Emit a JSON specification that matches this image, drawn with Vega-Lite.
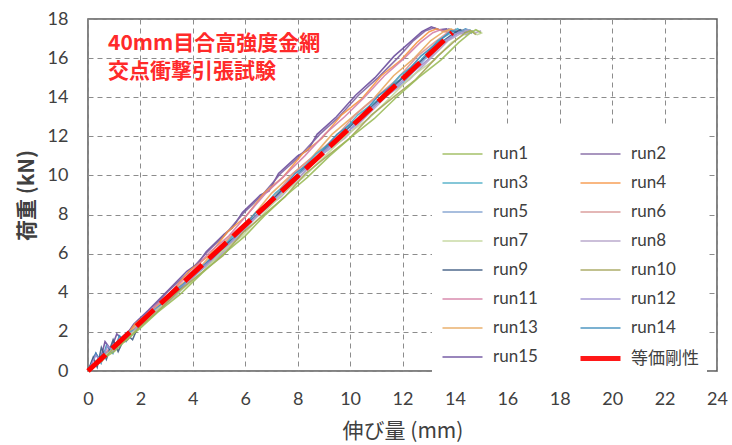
{
  "$schema": "https://vega.github.io/schema/vega-lite/v6.json",
  "width": 629,
  "height": 352,
  "autosize": "none",
  "padding": {"left": 88, "top": 19, "right": 15, "bottom": 74},
  "background": "white",
  "title": {
    "text": ["40mm目合高強度金網", "交点衝撃引張試験"],
    "orient": "top",
    "anchor": "start",
    "frame": "group",
    "baseline": "top",
    "offset": 0,
    "dx": 20,
    "dy": 72,
    "font": "Noto Sans CJK JP",
    "fontSize": 21,
    "fontWeight": "bold",
    "color": "#ff2a2a",
    "lineHeight": 28
  },
  "data": {
    "values": [
      {"run":"run15","x":0,"y":0},{"run":"run15","x":0.3,"y":0.9},{"run":"run15","x":0.46,"y":0.5},{"run":"run15","x":0.65,"y":1.5},{"run":"run15","x":0.87,"y":1.1},{"run":"run15","x":1.1,"y":1.9},{"run":"run15","x":1.33,"y":1.6},{"run":"run15","x":1.75,"y":2.4},{"run":"run15","x":2.3,"y":3.1},{"run":"run15","x":3.04,"y":4.1},{"run":"run15","x":3.77,"y":5.1},{"run":"run15","x":4.2,"y":5.5},{"run":"run15","x":4.51,"y":6.1},{"run":"run15","x":5.2,"y":7.0},{"run":"run15","x":5.5,"y":7.3},{"run":"run15","x":5.89,"y":8.1},{"run":"run15","x":6.58,"y":9.0},{"run":"run15","x":6.9,"y":9.2},{"run":"run15","x":7.27,"y":10.1},{"run":"run15","x":8.0,"y":11.0},{"run":"run15","x":8.4,"y":11.3},{"run":"run15","x":8.74,"y":12.1},{"run":"run15","x":9.48,"y":13.0},{"run":"run15","x":10.21,"y":14.1},{"run":"run15","x":10.95,"y":15.0},{"run":"run15","x":11.68,"y":16.1},{"run":"run15","x":12.28,"y":16.8},{"run":"run15","x":12.74,"y":17.35},{"run":"run15","x":13.1,"y":17.6},{"run":"run15","x":13.4,"y":17.45},{"run":"run15","x":13.7,"y":17.5},
      {"run":"run2","x":0,"y":0},{"run":"run2","x":0.47,"y":0.7},{"run":"run2","x":0.88,"y":1.1},{"run":"run2","x":1.35,"y":1.8},{"run":"run2","x":1.77,"y":2.3},{"run":"run2","x":2.33,"y":3.0},{"run":"run2","x":3.07,"y":4.1},{"run":"run2","x":3.81,"y":5.0},{"run":"run2","x":4.56,"y":6.1},{"run":"run2","x":5.25,"y":7.0},{"run":"run2","x":5.95,"y":8.1},{"run":"run2","x":6.65,"y":9.0},{"run":"run2","x":7.35,"y":10.1},{"run":"run2","x":8.09,"y":11.0},{"run":"run2","x":8.84,"y":12.1},{"run":"run2","x":9.58,"y":13.0},{"run":"run2","x":10.32,"y":14.1},{"run":"run2","x":11.07,"y":15.0},{"run":"run2","x":11.81,"y":16.0},{"run":"run2","x":12.42,"y":16.9},{"run":"run2","x":12.88,"y":17.4},{"run":"run2","x":13.2,"y":17.55},{"run":"run2","x":13.5,"y":17.4},{"run":"run2","x":13.8,"y":17.5},
      {"run":"run4","x":0,"y":0},{"run":"run4","x":0.47,"y":0.5},{"run":"run4","x":0.89,"y":1.2},{"run":"run4","x":1.36,"y":1.6},{"run":"run4","x":1.79,"y":2.4},{"run":"run4","x":2.35,"y":3.0},{"run":"run4","x":3.1,"y":3.9},{"run":"run4","x":3.85,"y":5.1},{"run":"run4","x":4.61,"y":5.9},{"run":"run4","x":5.31,"y":7.1},{"run":"run4","x":6.02,"y":7.9},{"run":"run4","x":6.72,"y":9.1},{"run":"run4","x":7.43,"y":9.9},{"run":"run4","x":8.18,"y":11.1},{"run":"run4","x":8.93,"y":11.9},{"run":"run4","x":9.68,"y":13.1},{"run":"run4","x":10.43,"y":13.9},{"run":"run4","x":11.19,"y":15.1},{"run":"run4","x":11.94,"y":15.9},{"run":"run4","x":12.55,"y":16.8},{"run":"run4","x":13.02,"y":17.35},{"run":"run4","x":13.3,"y":17.5},{"run":"run4","x":13.6,"y":17.35},{"run":"run4","x":13.9,"y":17.45},
      {"run":"run11","x":0,"y":0},{"run":"run11","x":0.48,"y":0.6},{"run":"run11","x":0.9,"y":1.3},{"run":"run11","x":1.38,"y":1.7},{"run":"run11","x":1.81,"y":2.2},{"run":"run11","x":2.38,"y":3.1},{"run":"run11","x":3.14,"y":4.0},{"run":"run11","x":3.9,"y":5.0},{"run":"run11","x":4.66,"y":6.1},{"run":"run11","x":5.37,"y":6.9},{"run":"run11","x":6.08,"y":8.0},{"run":"run11","x":6.79,"y":9.1},{"run":"run11","x":7.51,"y":10.0},{"run":"run11","x":8.27,"y":11.0},{"run":"run11","x":9.03,"y":12.1},{"run":"run11","x":9.79,"y":13.0},{"run":"run11","x":10.55,"y":14.0},{"run":"run11","x":11.31,"y":15.1},{"run":"run11","x":12.07,"y":16.0},{"run":"run11","x":12.68,"y":16.8},{"run":"run11","x":13.16,"y":17.3},{"run":"run11","x":13.45,"y":17.45},{"run":"run11","x":13.75,"y":17.3},{"run":"run11","x":14.0,"y":17.4},
      {"run":"run13","x":0,"y":0},{"run":"run13","x":0.49,"y":0.5},{"run":"run13","x":0.93,"y":1.2},{"run":"run13","x":1.42,"y":1.6},{"run":"run13","x":1.86,"y":2.4},{"run":"run13","x":2.45,"y":3.0},{"run":"run13","x":3.23,"y":4.1},{"run":"run13","x":4.02,"y":4.9},{"run":"run13","x":4.8,"y":6.1},{"run":"run13","x":5.54,"y":7.0},{"run":"run13","x":6.27,"y":7.9},{"run":"run13","x":7.01,"y":9.1},{"run":"run13","x":7.74,"y":10.0},{"run":"run13","x":8.53,"y":10.9},{"run":"run13","x":9.31,"y":12.1},{"run":"run13","x":10.09,"y":13.0},{"run":"run13","x":10.88,"y":13.9},{"run":"run13","x":11.66,"y":15.1},{"run":"run13","x":12.45,"y":16.0},{"run":"run13","x":13.08,"y":16.9},{"run":"run13","x":13.57,"y":17.35},{"run":"run13","x":13.85,"y":17.5},{"run":"run13","x":14.1,"y":17.3},{"run":"run13","x":14.35,"y":17.45},
      {"run":"run6","x":0,"y":0},{"run":"run6","x":0.5,"y":0.7},{"run":"run6","x":0.94,"y":1.1},{"run":"run6","x":1.44,"y":1.8},{"run":"run6","x":1.88,"y":2.2},{"run":"run6","x":2.48,"y":3.1},{"run":"run6","x":3.27,"y":3.9},{"run":"run6","x":4.06,"y":5.1},{"run":"run6","x":4.85,"y":5.9},{"run":"run6","x":5.59,"y":7.1},{"run":"run6","x":6.34,"y":8.0},{"run":"run6","x":7.08,"y":8.9},{"run":"run6","x":7.82,"y":10.1},{"run":"run6","x":8.61,"y":11.0},{"run":"run6","x":9.41,"y":11.9},{"run":"run6","x":10.2,"y":13.1},{"run":"run6","x":10.99,"y":14.0},{"run":"run6","x":11.78,"y":14.9},{"run":"run6","x":12.57,"y":16.1},{"run":"run6","x":13.22,"y":16.8},{"run":"run6","x":13.71,"y":17.3},{"run":"run6","x":14.0,"y":17.45},{"run":"run6","x":14.25,"y":17.25},
      {"run":"run3","x":0,"y":0},{"run":"run3","x":0.5,"y":0.8},{"run":"run3","x":0.95,"y":1.0},{"run":"run3","x":1.45,"y":1.9},{"run":"run3","x":1.9,"y":2.2},{"run":"run3","x":2.5,"y":3.1},{"run":"run3","x":3.3,"y":3.9},{"run":"run3","x":4.1,"y":5.1},{"run":"run3","x":4.9,"y":5.9},{"run":"run3","x":5.65,"y":7.1},{"run":"run3","x":6.4,"y":7.9},{"run":"run3","x":7.15,"y":9.1},{"run":"run3","x":7.9,"y":9.9},{"run":"run3","x":8.7,"y":11.1},{"run":"run3","x":9.5,"y":11.9},{"run":"run3","x":10.3,"y":13.1},{"run":"run3","x":11.1,"y":13.9},{"run":"run3","x":11.9,"y":15.1},{"run":"run3","x":12.7,"y":15.9},{"run":"run3","x":13.35,"y":16.9},{"run":"run3","x":13.85,"y":17.3},{"run":"run3","x":14.1,"y":17.5},{"run":"run3","x":14.35,"y":17.3},{"run":"run3","x":14.6,"y":17.45},
      {"run":"run14","x":0,"y":0},{"run":"run14","x":0.3,"y":0.9},{"run":"run14","x":0.5,"y":0.4},{"run":"run14","x":0.7,"y":1.3},{"run":"run14","x":0.95,"y":0.9},{"run":"run14","x":1.2,"y":1.8},{"run":"run14","x":1.45,"y":1.5},{"run":"run14","x":1.9,"y":2.3},{"run":"run14","x":2.5,"y":3.0},{"run":"run14","x":3.3,"y":4.1},{"run":"run14","x":4.1,"y":4.9},{"run":"run14","x":4.9,"y":6.1},{"run":"run14","x":5.65,"y":6.9},{"run":"run14","x":6.4,"y":8.1},{"run":"run14","x":7.15,"y":8.9},{"run":"run14","x":7.9,"y":10.1},{"run":"run14","x":8.7,"y":10.9},{"run":"run14","x":9.5,"y":12.1},{"run":"run14","x":10.3,"y":12.9},{"run":"run14","x":11.1,"y":14.1},{"run":"run14","x":11.9,"y":14.9},{"run":"run14","x":12.7,"y":16.1},{"run":"run14","x":13.35,"y":16.8},{"run":"run14","x":13.85,"y":17.4},{"run":"run14","x":14.15,"y":17.3},{"run":"run14","x":14.4,"y":17.5},{"run":"run14","x":14.7,"y":17.35},
      {"run":"run9","x":0,"y":0},{"run":"run9","x":0.2,"y":0.7},{"run":"run9","x":0.35,"y":0.2},{"run":"run9","x":0.51,"y":1.2},{"run":"run9","x":0.7,"y":0.6},{"run":"run9","x":0.96,"y":1.6},{"run":"run9","x":1.15,"y":1.0},{"run":"run9","x":1.46,"y":1.9},{"run":"run9","x":1.7,"y":1.6},{"run":"run9","x":1.92,"y":2.3},{"run":"run9","x":2.53,"y":3.0},{"run":"run9","x":3.33,"y":4.0},{"run":"run9","x":4.14,"y":5.0},{"run":"run9","x":4.95,"y":6.0},{"run":"run9","x":5.71,"y":7.0},{"run":"run9","x":6.46,"y":8.0},{"run":"run9","x":7.22,"y":9.0},{"run":"run9","x":7.98,"y":10.0},{"run":"run9","x":8.79,"y":11.0},{"run":"run9","x":9.6,"y":12.0},{"run":"run9","x":10.4,"y":13.0},{"run":"run9","x":11.21,"y":14.0},{"run":"run9","x":12.02,"y":15.0},{"run":"run9","x":12.83,"y":16.0},{"run":"run9","x":13.48,"y":16.8},{"run":"run9","x":13.99,"y":17.3},{"run":"run9","x":14.2,"y":17.45},{"run":"run9","x":14.45,"y":17.3},
      {"run":"run5","x":0,"y":0},{"run":"run5","x":0.51,"y":0.6},{"run":"run5","x":0.97,"y":1.2},{"run":"run5","x":1.48,"y":1.7},{"run":"run5","x":1.94,"y":2.3},{"run":"run5","x":2.55,"y":2.9},{"run":"run5","x":3.37,"y":4.1},{"run":"run5","x":4.18,"y":5.0},{"run":"run5","x":5.0,"y":5.9},{"run":"run5","x":5.76,"y":7.1},{"run":"run5","x":6.53,"y":8.0},{"run":"run5","x":7.29,"y":8.9},{"run":"run5","x":8.06,"y":10.1},{"run":"run5","x":8.87,"y":11.0},{"run":"run5","x":9.69,"y":11.9},{"run":"run5","x":10.51,"y":13.1},{"run":"run5","x":11.32,"y":14.0},{"run":"run5","x":12.14,"y":14.9},{"run":"run5","x":12.95,"y":16.1},{"run":"run5","x":13.62,"y":16.8},{"run":"run5","x":14.13,"y":17.3},{"run":"run5","x":14.4,"y":17.45},{"run":"run5","x":14.65,"y":17.25},
      {"run":"run12","x":0,"y":0},{"run":"run12","x":0.3,"y":0.8},{"run":"run12","x":0.51,"y":0.5},{"run":"run12","x":0.75,"y":1.3},{"run":"run12","x":0.97,"y":1.0},{"run":"run12","x":1.48,"y":1.8},{"run":"run12","x":1.94,"y":2.2},{"run":"run12","x":2.55,"y":3.1},{"run":"run12","x":3.37,"y":3.9},{"run":"run12","x":4.18,"y":5.1},{"run":"run12","x":5.0,"y":6.0},{"run":"run12","x":5.76,"y":6.9},{"run":"run12","x":6.53,"y":8.1},{"run":"run12","x":7.29,"y":9.0},{"run":"run12","x":8.06,"y":9.9},{"run":"run12","x":8.87,"y":11.1},{"run":"run12","x":9.69,"y":12.0},{"run":"run12","x":10.51,"y":12.9},{"run":"run12","x":11.32,"y":14.1},{"run":"run12","x":12.14,"y":15.0},{"run":"run12","x":12.95,"y":15.9},{"run":"run12","x":13.62,"y":16.9},{"run":"run12","x":14.13,"y":17.3},{"run":"run12","x":14.4,"y":17.2},{"run":"run12","x":14.7,"y":17.4},
      {"run":"run8","x":0,"y":0},{"run":"run8","x":0.52,"y":0.5},{"run":"run8","x":0.98,"y":1.2},{"run":"run8","x":1.49,"y":1.6},{"run":"run8","x":1.96,"y":2.4},{"run":"run8","x":2.58,"y":3.0},{"run":"run8","x":3.4,"y":3.9},{"run":"run8","x":4.22,"y":5.1},{"run":"run8","x":5.05,"y":5.9},{"run":"run8","x":5.82,"y":7.0},{"run":"run8","x":6.59,"y":8.1},{"run":"run8","x":7.36,"y":8.9},{"run":"run8","x":8.14,"y":10.0},{"run":"run8","x":8.96,"y":11.1},{"run":"run8","x":9.79,"y":11.9},{"run":"run8","x":10.61,"y":13.0},{"run":"run8","x":11.43,"y":14.1},{"run":"run8","x":12.26,"y":14.9},{"run":"run8","x":13.08,"y":16.0},{"run":"run8","x":13.75,"y":16.9},{"run":"run8","x":14.27,"y":17.3},{"run":"run8","x":14.5,"y":17.45},{"run":"run8","x":14.8,"y":17.3},{"run":"run8","x":15.0,"y":17.4},
      {"run":"run7","x":0,"y":0},{"run":"run7","x":0.52,"y":0.7},{"run":"run7","x":0.99,"y":1.1},{"run":"run7","x":1.51,"y":1.8},{"run":"run7","x":1.98,"y":2.2},{"run":"run7","x":2.6,"y":3.1},{"run":"run7","x":3.43,"y":4.0},{"run":"run7","x":4.26,"y":4.9},{"run":"run7","x":5.1,"y":6.1},{"run":"run7","x":5.88,"y":6.9},{"run":"run7","x":6.66,"y":8.0},{"run":"run7","x":7.44,"y":9.1},{"run":"run7","x":8.22,"y":9.9},{"run":"run7","x":9.05,"y":11.0},{"run":"run7","x":9.88,"y":12.1},{"run":"run7","x":10.71,"y":12.9},{"run":"run7","x":11.54,"y":14.0},{"run":"run7","x":12.38,"y":15.1},{"run":"run7","x":13.21,"y":15.9},{"run":"run7","x":13.88,"y":16.8},{"run":"run7","x":14.4,"y":17.25},{"run":"run7","x":14.6,"y":17.4},{"run":"run7","x":14.85,"y":17.2},{"run":"run7","x":15.05,"y":17.3},
      {"run":"run10","x":0,"y":0},{"run":"run10","x":0.53,"y":0.5},{"run":"run10","x":1.0,"y":1.2},{"run":"run10","x":1.52,"y":1.6},{"run":"run10","x":2.0,"y":2.3},{"run":"run10","x":2.63,"y":3.0},{"run":"run10","x":3.47,"y":4.1},{"run":"run10","x":4.31,"y":5.0},{"run":"run10","x":5.15,"y":5.9},{"run":"run10","x":5.93,"y":7.1},{"run":"run10","x":6.72,"y":8.0},{"run":"run10","x":7.51,"y":8.9},{"run":"run10","x":8.3,"y":10.1},{"run":"run10","x":9.14,"y":11.0},{"run":"run10","x":9.98,"y":11.9},{"run":"run10","x":10.82,"y":13.1},{"run":"run10","x":11.66,"y":14.0},{"run":"run10","x":12.5,"y":14.9},{"run":"run10","x":13.34,"y":16.1},{"run":"run10","x":14.02,"y":16.9},{"run":"run10","x":14.4,"y":17.3},{"run":"run10","x":14.6,"y":17.4},{"run":"run10","x":14.8,"y":17.2},
      {"run":"run1","x":0,"y":0},{"run":"run1","x":0.53,"y":0.6},{"run":"run1","x":1.01,"y":1.0},{"run":"run1","x":1.54,"y":1.7},{"run":"run1","x":2.01,"y":2.2},{"run":"run1","x":2.65,"y":3.0},{"run":"run1","x":3.5,"y":3.9},{"run":"run1","x":4.35,"y":5.0},{"run":"run1","x":5.19,"y":6.0},{"run":"run1","x":5.99,"y":6.9},{"run":"run1","x":6.78,"y":8.0},{"run":"run1","x":7.58,"y":9.0},{"run":"run1","x":8.37,"y":9.9},{"run":"run1","x":9.22,"y":11.0},{"run":"run1","x":10.07,"y":12.0},{"run":"run1","x":10.92,"y":12.9},{"run":"run1","x":11.77,"y":14.0},{"run":"run1","x":12.61,"y":15.0},{"run":"run1","x":13.46,"y":15.9},{"run":"run1","x":14.15,"y":16.8},{"run":"run1","x":14.6,"y":17.3},{"run":"run1","x":14.8,"y":17.45},{"run":"run1","x":15.0,"y":17.3},
      {"run":"等価剛性","x":0,"y":0},{"run":"等価剛性","x":13.9,"y":17.3}
    ]
  },
  "encoding": {
    "x": {
      "field": "x", "type": "quantitative",
      "scale": {"domain": [0, 24], "nice": false},
      "axis": {"values": [0,2,4,6,8,10,12,14,16,18,20,22,24], "title": "伸び量 (mm)"}
    },
    "y": {
      "field": "y", "type": "quantitative",
      "scale": {"domain": [0, 18], "nice": false},
      "axis": {"values": [0,2,4,6,8,10,12,14,16,18], "title": "荷重 (kN)"}
    },
    "color": {
      "field": "run", "type": "nominal",
      "scale": {
        "domain": ["run1","run3","run5","run7","run9","run11","run13","run15","run2","run4","run6","run8","run10","run12","run14","等価剛性"],
        "range": ["#9bbb59","#4bacc6","#7f9fcf","#c3d69b","#3d5a80","#d47fa6","#e9a85f","#6a4c9c","#8064a2","#f79646","#d99694","#b3a2c7","#a5a55a","#9d8fd0","#3c8dbc","#ff0000"]
      },
      "legend": {"title": null}
    },
    "strokeWidth": {
      "field": "run", "type": "nominal",
      "scale": {
        "type": "ordinal",
        "domain": ["run1","run3","run5","run7","run9","run11","run13","run15","run2","run4","run6","run8","run10","run12","run14","等価剛性"],
        "range": [1.6,1.6,1.6,1.6,1.6,1.6,1.6,1.6,1.6,1.6,1.6,1.6,1.6,1.6,1.6,5]
      },
      "legend": {"title": null}
    }
  },
  "layer": [
    {
      "transform": [{"filter": "datum.run !== '等価剛性'"}],
      "mark": {"type": "line", "opacity": 0.9}
    },
    {
      "transform": [{"filter": "datum.run === '等価剛性'"}],
      "mark": {"type": "line", "strokeDash": [24, 9], "strokeCap": "butt"}
    }
  ],
  "config": {
    "view": {"stroke": "#595959", "strokeWidth": 1.5},
    "axis": {
      "domain": false,
      "ticks": false,
      "grid": true,
      "labelFlush": false,
      "gridColor": "#8c8c8c",
      "gridDash": [5, 4],
      "gridWidth": 1,
      "labelFont": "Lato",
      "labelFontSize": 18,
      "labelColor": "#404040",
      "titleFont": "Noto Sans CJK JP",
      "titleFontSize": 21,
      "titleFontWeight": "normal",
      "titleColor": "#404040"
    },
    "axisX": {"labelPadding": 19, "titlePadding": 12},
    "axisY": {"labelPadding": 20, "titlePadding": 10, "titleFontWeight": "bold"},
    "legend": {
      "orient": "none",
      "legendX": 344,
      "legendY": 106,
      "columns": 2,
      "columnPadding": 32,
      "rowPadding": -3,
      "padding": 8,
      "fillColor": "white",
      "symbolType": "stroke",
      "symbolSize": 1600,
      "labelFont": "Lato, Noto Sans CJK JP",
      "labelFontSize": 17,
      "labelColor": "#404040",
      "labelOffset": 8
    }
  }
}
